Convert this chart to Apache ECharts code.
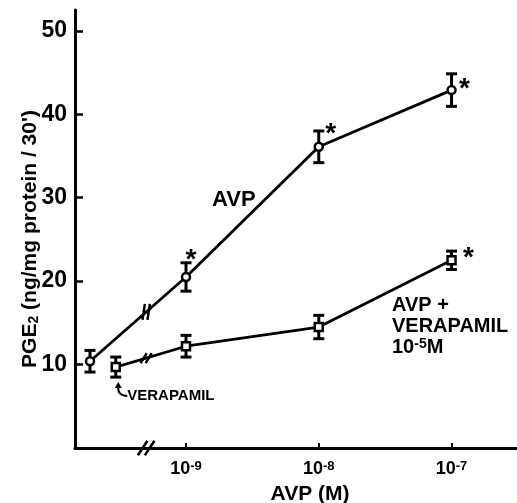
<!DOCTYPE html>
<html>
<head>
<meta charset="utf-8">
<script src="https://cdn.jsdelivr.net/npm/echarts@6/dist/echarts.min.js"></script>
<style>
  html, body { margin: 0; padding: 0; background: #fff; }
  #chart { width: 517px; height: 503px; }
</style>
</head>
<body>
<div id="chart"></div>
<script>
// AVP doses, as log10 of the molar concentration
const doseExponents = [-9, -8, -7];
const xTickExponents = ['-9', '-8', '-7'];
const yTicks = [10, 20, 30, 40, 50];

// PGE2 release (ng/mg protein / 30 min): mean and SEM
const basalAvp = 10.4;
const basalAvpErr = 1.3;
const avpMeans = [20.5, 36.1, 42.9];
const avpErrs = [1.7, 1.9, 1.95];

const verapamilAlone = 9.7;
const verapamilAloneErr = 1.2;
const avpVerMeans = [12.2, 14.5, 22.5];
const avpVerErrs = [1.3, 1.4, 1.1];

// points marked as significant
const avpSig = [true, true, true];
const avpVerSig = [false, false, true];

const FONT = '"Liberation Sans", Arial, Helvetica, sans-serif';
const X_MIN = -9.836, X_MAX = -6.507;
const BASAL_X = -9.723;   // untreated control, left of the axis break
const VERAP_X = -9.529;   // verapamil alone
const BREAK_X = -9.30;    // where the dose axis is broken

const avpPoints = [[BASAL_X, basalAvp]].concat(doseExponents.map((e, i) => [e, avpMeans[i]]));
const verPoints = [[VERAP_X, verapamilAlone]].concat(doseExponents.map((e, i) => [e, avpVerMeans[i]]));

const errData = [[BASAL_X, basalAvp, basalAvpErr], [VERAP_X, verapamilAlone, verapamilAloneErr]]
  .concat(doseExponents.map((e, i) => [e, avpMeans[i], avpErrs[i]]))
  .concat(doseExponents.map((e, i) => [e, avpVerMeans[i], avpVerErrs[i]]));

// asterisk placement next to each dose point
const avpStarOffsets = [[5, -23], [12, -19], [13, -7]];
const verStarOffsets = [[0, 0], [0, 0], [17, -8]];

function withStars(points, sig, offsets) {
  return points.map((p, i) => {
    if (i === 0 || !sig[i - 1]) return { value: p };
    return {
      value: p,
      label: {
        show: true, position: 'inside', formatter: '*',
        offset: [offsets[i - 1][0], offsets[i - 1][1] + 6],
        color: '#000', fontFamily: FONT, fontWeight: 'bold', fontSize: 28
      }
    };
  });
}

const BLACK = '#000';
const chart = echarts.init(document.getElementById('chart'));

const option = {
  backgroundColor: '#fff',
  animation: false,
  grid: { left: 75, right: 0, top: 10, bottom: 55, containLabel: false, outerBoundsMode: 'none' },
  xAxis: {
    type: 'value', min: X_MIN, max: X_MAX,
    splitLine: { show: false },
    axisLine: { show: true, onZero: false, lineStyle: { color: BLACK, width: 3 } },
    axisTick: { show: true, inside: true, length: 5, lineStyle: { color: BLACK, width: 2 },
      customValues: doseExponents },
    axisLabel: {
      customValues: doseExponents, margin: 12,
      formatter: v => '10{sup|' + xTickExponents[doseExponents.indexOf(Math.round(v))] + '}',
      color: BLACK, fontFamily: FONT, fontWeight: 'bold', fontSize: 18,
      rich: { sup: { fontFamily: FONT, fontWeight: 'bold', fontSize: 13, color: BLACK,
        verticalAlign: 'top', padding: [0, 0, 6, 0] } }
    },
    name: 'AVP (M)', nameLocation: 'middle', nameGap: 36, nameMoveOverlap: false,
    nameTextStyle: { color: BLACK, fontFamily: FONT, fontWeight: 'bold', fontSize: 21, padding: [0, 0, 0, 28] }
  },
  yAxis: {
    type: 'value', min: 0, max: 52.5,
    splitLine: { show: false },
    axisLine: { show: true, lineStyle: { color: BLACK, width: 3 } },
    axisTick: { show: true, inside: true, length: 8, lineStyle: { color: BLACK, width: 2.5 },
      customValues: yTicks },
    axisLabel: { customValues: yTicks, margin: 8, color: BLACK, fontFamily: FONT,
      fontWeight: 'bold', fontSize: 23 },
    name: "PGE{sub|2} (ng/mg protein / 30')", nameLocation: 'middle', nameGap: 34, nameMoveOverlap: false,
    nameTextStyle: { color: BLACK, fontFamily: FONT, fontWeight: 'bold', fontSize: 21, padding: [0, 20, 0, 0],
      rich: { sub: { fontFamily: FONT, fontWeight: 'bold', fontSize: 14, color: BLACK,
        verticalAlign: 'bottom', padding: [8, 0, 0, 0] } } }
  },
  graphic: [
    { type: 'text', left: 212, top: 189,
      style: { text: 'AVP', fill: BLACK, font: 'bold 22px ' + FONT } },
    { type: 'text', left: 392, top: 295,
      style: {
        text: 'AVP +\nVERAPAMIL\n10{sup|-5}M', fill: BLACK, font: 'bold 20px ' + FONT, lineHeight: 21,
        rich: { sup: { font: 'bold 14px ' + FONT, fill: BLACK, verticalAlign: 'top', padding: [0, 0, 6, 0] } }
      } }
  ],
  series: [
    {
      // SEM bars, drawn under the markers
      type: 'custom', z: 1, data: errData, encode: { x: 0, y: 1 },
      renderItem(params, api) {
        const x = api.value(0), m = api.value(1), e = api.value(2);
        const t = api.coord([x, m + e]), b = api.coord([x, m - e]);
        const hw = 5.5, st = { stroke: BLACK, lineWidth: 3 };
        return { type: 'group', children: [
          { type: 'line', shape: { x1: t[0], y1: t[1], x2: b[0], y2: b[1] }, style: st },
          { type: 'line', shape: { x1: t[0] - hw, y1: t[1], x2: t[0] + hw, y2: t[1] }, style: st },
          { type: 'line', shape: { x1: b[0] - hw, y1: b[1], x2: b[0] + hw, y2: b[1] }, style: st }
        ] };
      }
    },
    {
      name: 'AVP', type: 'line', z: 3, data: withStars(avpPoints, avpSig, avpStarOffsets),
      symbol: 'circle', symbolSize: 8,
      lineStyle: { color: BLACK, width: 2.8 },
      itemStyle: { color: '#fff', borderColor: BLACK, borderWidth: 2.5 },
      emphasis: { disabled: true }
    },
    {
      name: 'AVP + verapamil', type: 'line', z: 3, data: withStars(verPoints, avpVerSig, verStarOffsets),
      symbol: 'rect', symbolSize: 8,
      lineStyle: { color: BLACK, width: 2.8 },
      itemStyle: { color: '#fff', borderColor: BLACK, borderWidth: 2.5 },
      emphasis: { disabled: true }
    },
    {
      // break marks on the dose axis and on both curves
      type: 'custom', z: 4, encode: { x: 0, y: 1 },
      data: [
        [X_MIN, 0, X_MAX, 0, 0],
        avpPoints[0].concat(avpPoints[1], [1]),
        verPoints[0].concat(verPoints[1], [2])
      ],
      renderItem(params, api) {
        const p0 = api.coord([api.value(0), api.value(1)]);
        const p1 = api.coord([api.value(2), api.value(3)]);
        const bx = api.coord([BREAK_X, 0])[0];
        const t = (bx - p0[0]) / (p1[0] - p0[0]);
        const by = p0[1] + t * (p1[1] - p0[1]);
        const kind = api.value(4);
        const shapes = [[4.8, 7.2, 7], [1.2, 8, 5], [3, 5, 5]];
        const [dx, dy, gap] = shapes[kind];
        const st = { stroke: BLACK, lineWidth: 2.5 };
        return { type: 'group', children: [-gap / 2, gap / 2].map(o => ({
          type: 'line',
          shape: { x1: bx + o - dx, y1: by + dy, x2: bx + o + dx, y2: by - dy },
          style: st
        })) };
      }
    },
    {
      // note for the verapamil-only point
      type: 'custom', z: 4, encode: { x: 0, y: 1 },
      data: [[VERAP_X, verapamilAlone - verapamilAloneErr]],
      renderItem(params, api) {
        const p = api.coord([api.value(0), api.value(1)]);
        const tx = p[0] + 2.5, ty = p[1] + 5;
        return { type: 'group', children: [
          { type: 'polygon', shape: { points: [[tx, ty], [tx - 3.5, ty + 6], [tx + 3.5, ty + 6]] },
            style: { fill: BLACK } },
          { type: 'bezierCurve',
            shape: { x1: tx, y1: ty + 5, cpx1: tx - 1, cpy1: ty + 13, x2: tx + 9, y2: ty + 14 },
            style: { stroke: BLACK, lineWidth: 2, fill: null } },
          { type: 'text',
            style: { x: tx + 9, y: ty + 14, text: 'VERAPAMIL', fill: BLACK,
              font: 'bold 15px ' + FONT, verticalAlign: 'middle', align: 'left' } }
        ] };
      }
    }
  ]
};

chart.setOption(option);
</script>
</body>
</html>
